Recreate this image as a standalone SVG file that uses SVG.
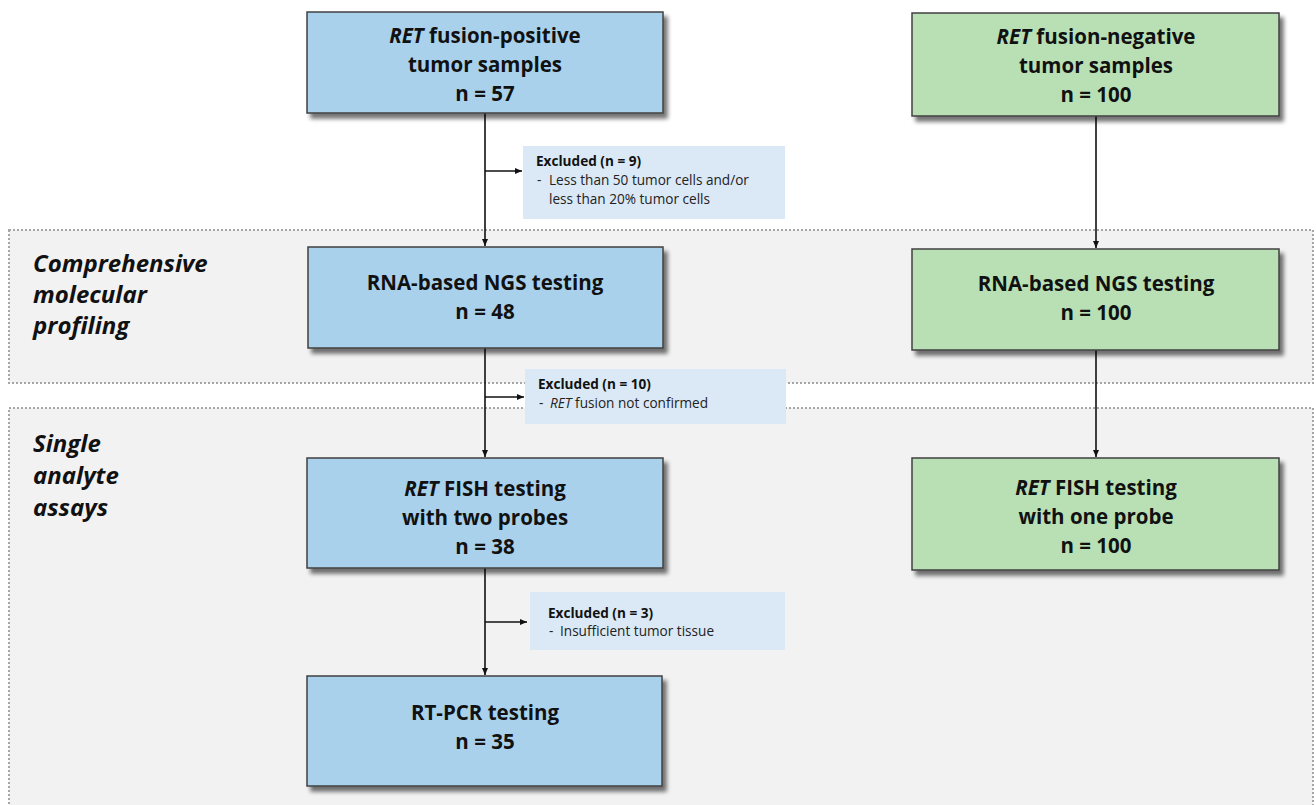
<svg xmlns="http://www.w3.org/2000/svg" width="1316" height="805" viewBox="0 0 1316 805">
<style>
.band{fill:#f2f2f2;stroke:#a6a6a6;stroke-width:2;stroke-dasharray:2 2}
.blue{fill:#a9d1ec;stroke:#404040;stroke-width:1.5}
.green{fill:#b9e0b5;stroke:#404040;stroke-width:1.5}
.excl{fill:#dbe9f6}
.t{font-family:"Open Sans","Liberation Sans",sans-serif;font-weight:bold;font-size:20.5px;fill:#111;text-anchor:middle}
.lab{font-family:"Open Sans","Liberation Sans",sans-serif;font-weight:bold;font-style:italic;font-size:24px;fill:#111}
.eh{font-family:"Open Sans","Liberation Sans",sans-serif;font-weight:bold;font-size:13.6px;fill:#111}
.et{font-family:"Open Sans","Liberation Sans",sans-serif;font-size:13.6px;fill:#222}
.c{stroke:#111;stroke-width:1.6;fill:none;marker-end:url(#ah)}
</style>
<defs>
<marker id="ah" markerWidth="8" markerHeight="8" refX="7" refY="4" orient="auto" markerUnits="userSpaceOnUse"><path d="M0,1 L7,4 L0,7 Z" fill="#111"/></marker>
<filter id="sh" x="-5%" y="-5%" width="115%" height="125%"><feGaussianBlur in="SourceAlpha" stdDeviation="2"/><feOffset dx="4" dy="5" result="b"/><feComponentTransfer><feFuncA type="linear" slope="0.55"/></feComponentTransfer><feMerge><feMergeNode/><feMergeNode in="SourceGraphic"/></feMerge></filter>
</defs>
<rect width="1316" height="805" fill="#ffffff"/>
<g id="band-cmp">
<rect class="band" x="9" y="230" width="1304" height="153"/>
<text class="lab" x="33" y="272">Comprehensive</text>
<text class="lab" x="33" y="303">molecular</text>
<text class="lab" x="33" y="334">profiling</text>
</g>
<g id="band-single">
<rect class="band" x="9" y="408" width="1304" height="420"/>
<text class="lab" x="33" y="452">Single</text>
<text class="lab" x="33" y="484">analyte</text>
<text class="lab" x="33" y="516">assays</text>
</g>
<g id="connectors">
<path class="c" d="M485,113 V246"/>
<path class="c" d="M485,348 V457"/>
<path class="c" d="M485,568 V675"/>
<path class="c" d="M1096,116 V248"/>
<path class="c" d="M1096,350 V457"/>
<path class="c" d="M485,171 H522"/>
<path class="c" d="M485,397 H524"/>
<path class="c" d="M485,622 H527"/>
</g>
<g id="pos-samples">
<rect class="blue" x="307" y="12" width="356" height="101" filter="url(#sh)"/>
<text class="t" x="485" y="43"><tspan font-style="italic">RET</tspan> fusion-positive</text>
<text class="t" x="485" y="72">tumor samples</text>
<text class="t" x="485" y="101">n = 57</text>
</g>
<g id="neg-samples">
<rect class="green" x="912" y="13" width="367" height="103" filter="url(#sh)"/>
<text class="t" x="1096" y="44"><tspan font-style="italic">RET</tspan> fusion-negative</text>
<text class="t" x="1096" y="73">tumor samples</text>
<text class="t" x="1096" y="102">n = 100</text>
</g>
<g id="excl-9">
<rect class="excl" x="523" y="146" width="262" height="73"/>
<text class="eh" x="536" y="166">Excluded (n = 9)</text>
<text class="et" x="537" y="185">-</text>
<text class="et" x="549" y="185">Less than 50 tumor cells and/or</text>
<text class="et" x="549" y="204">less than 20% tumor cells</text>
</g>
<g id="pos-ngs">
<rect class="blue" x="308" y="247" width="355" height="101" filter="url(#sh)"/>
<text class="t" x="485" y="290">RNA-based NGS testing</text>
<text class="t" x="485" y="319">n = 48</text>
</g>
<g id="neg-ngs">
<rect class="green" x="912" y="249" width="367" height="101" filter="url(#sh)"/>
<text class="t" x="1096" y="291">RNA-based NGS testing</text>
<text class="t" x="1096" y="320">n = 100</text>
</g>
<g id="excl-10">
<rect class="excl" x="525" y="369" width="261" height="55"/>
<text class="eh" x="538" y="389">Excluded (n = 10)</text>
<text class="et" x="539" y="408">-</text>
<text class="et" x="550" y="408"><tspan font-style="italic">RET</tspan> fusion not confirmed</text>
</g>
<g id="pos-fish">
<rect class="blue" x="307" y="458" width="356" height="110" filter="url(#sh)"/>
<text class="t" x="485" y="496"><tspan font-style="italic">RET</tspan> FISH testing</text>
<text class="t" x="485" y="525">with two probes</text>
<text class="t" x="485" y="554">n = 38</text>
</g>
<g id="neg-fish">
<rect class="green" x="912" y="458" width="367" height="112" filter="url(#sh)"/>
<text class="t" x="1096" y="495"><tspan font-style="italic">RET</tspan> FISH testing</text>
<text class="t" x="1096" y="524">with one probe</text>
<text class="t" x="1096" y="553">n = 100</text>
</g>
<g id="excl-3">
<rect class="excl" x="530" y="592" width="255" height="58"/>
<text class="eh" x="548" y="618">Excluded (n = 3)</text>
<text class="et" x="549" y="636">-</text>
<text class="et" x="560" y="636">Insufficient tumor tissue</text>
</g>
<g id="pos-rtpcr">
<rect class="blue" x="307" y="676" width="355" height="110" filter="url(#sh)"/>
<text class="t" x="485" y="720">RT-PCR testing</text>
<text class="t" x="485" y="749">n = 35</text>
</g>
</svg>
